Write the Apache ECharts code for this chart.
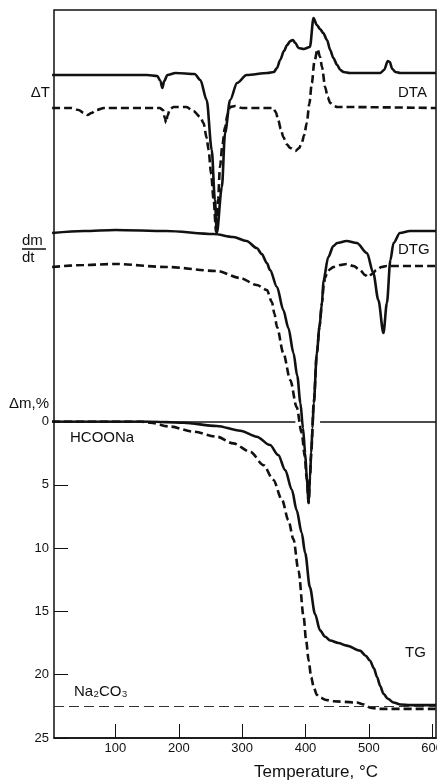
<!DOCTYPE html>
<html>
<head>
<meta charset="utf-8">
<script src="https://cdn.jsdelivr.net/npm/echarts@6/dist/echarts.min.js"></script>
<style>
  html, body { margin: 0; padding: 0; background: #fff; }
  #chart { width: 437px; height: 781px; }
</style>
</head>
<body>
<div id="chart"></div>
<script>
// temperature axis ticks, °C
const tempTicks = [100, 200, 300, 400, 500, 600]

// DTA, arbitrary ΔT units (solid and dashed run)
const dtaSolid = [[0, -0.1], [150, -0.1], [166, -0.2], [171, -0.7], [174, -1.4], [177, -0.7], [182, -0.1],
  [195, 0.1], [225, 0], [234, -0.6], [244, -2.6], [252, -7.6], [257, -12.6], [260, -15.9], [268, -11.3],
  [273, -5.9], [281, -2.6], [292, -0.9], [307, -0.1], [340, 0.1], [350, 0.2], [355, 0.6], [360, 1.4],
  [366, 2.3], [371, 2.9], [376, 3.3], [380, 3.4], [384, 3.1], [389, 2.6], [397, 2.5], [407, 2.7],
  [412.6, 5.6], [418, 4.9], [423, 4.5], [428, 4.1], [434, 3.4], [439, 2.4], [444, 1.6], [450, 0.9],
  [455, 0.4], [460, 0.2], [470, 0.1], [518, 0.1], [524, 0.4], [530, 1.3], [533, 1.2], [537, 0.5],
  [542, 0.2], [550, 0.1], [606, 0.1]]
const dtaDashed = [[0, -3.4], [30, -3.4], [42, -3.6], [50, -3.9], [56, -4.1], [62, -3.9], [70, -3.6],
  [82, -3.4], [170, -3.4], [175, -3.6], [178, -4.4], [180, -4.9], [182, -4.2], [186, -3.5], [192, -3.3],
  [212, -3.3], [223, -3.7], [234, -4.3], [239, -4.9], [244, -6.4], [247, -7.6], [251, -10], [255, -12.6],
  [259, -15.9], [262, -12.5], [265, -9.3], [269, -7], [273, -5.3], [277, -4], [281, -3.3], [289, -3.2],
  [300, -3.4], [349, -3.4], [353, -3.8], [357, -4.6], [361, -5.5], [365, -6.3], [370, -7], [376, -7.4],
  [384, -7.7], [390, -7.4], [394, -6.9], [398, -6.1], [402, -4.9], [406, -3.0], [410, -0.9], [414, 1.2],
  [419, 2.5], [423, 1.7], [426, 0.7], [431, -1.3], [435, -2.3], [439, -2.9], [445, -3.2], [450, -3.3],
  [606, -3.4]]

// DTG, arbitrary dm/dt units
const dtgSolid = [[0, -0.1], [50, 0.1], [100, 0.2], [180, 0.1], [255, -0.2], [286, -0.5], [307, -0.9],
  [323, -1.6], [331, -2.2], [339, -3.1], [344, -3.8], [355, -5.5], [365, -7.8], [373, -9.6], [381, -12.1],
  [387, -14.4], [392, -17.1], [396, -19.6], [399.5, -22.1], [402, -24.5], [405, -27.1], [407, -24.6],
  [409, -22.1], [411, -19.6], [413, -17.1], [418, -12.1], [422, -9.5], [426, -7.1], [428.4, -4.8],
  [436, -2.5], [444, -1.4], [450, -1.1], [465, -0.9], [481, -1.1], [497, -2.1], [507, -4.1], [515, -6.8],
  [523, -10.1], [528.5, -7.1], [534, -2.8], [539, -1.1], [549, -0.1], [565, 0.1], [606, 0.1]]
const dtgDashed = [[0, -3.5], [50, -3.3], [100, -3.2], [180, -3.5], [260, -3.9], [297, -4.6], [323, -5.3],
  [339, -5.8], [347, -7], [351, -8.2], [355, -9.5], [365, -12.1], [376, -14.8], [386, -17.5], [394, -20.1],
  [399, -22.5], [402, -24.8], [405, -27.1], [407, -24.6], [409, -22.1], [413, -17.1], [418, -12.1],
  [422, -9.5], [426, -7.1], [429, -5.2], [431, -4.6], [434, -4.1], [439, -3.7], [444, -3.5], [455, -3.3],
  [465, -3.2], [476, -3.4], [486, -3.8], [494, -4.3], [499, -4.5], [505, -4.2], [512, -3.8], [520, -3.5],
  [528, -3.4], [606, -3.4]]

// TG, mass loss Δm in %
const tgSolid = [[0, 0], [150, 0], [181, 0.05], [207, 0.1], [260, 0.35], [297, 0.73], [323, 1.2],
  [344, 1.86], [357, 2.65], [368, 3.84], [378.5, 5.4], [386, 7.0], [394, 8.8], [399.5, 10.4], [407, 13.1],
  [415, 15.2], [423, 16.5], [431, 17.0], [439, 17.3], [452, 17.5], [465, 17.7], [486, 18.1], [495, 18.5],
  [502, 18.9], [508, 19.5], [513, 20.2], [518, 20.9], [523, 21.5], [530, 21.9], [539, 22.2], [550, 22.35],
  [565, 22.4], [606, 22.4]]
const tgDashed = [[0, 0], [140, 0], [155, 0.1], [186, 0.4], [223, 0.8], [260, 1.2], [286, 1.73],
  [313, 2.4], [334, 3.45], [349, 4.6], [363, 6.2], [373, 7.8], [381, 9.3], [389, 11.8], [397, 15.4],
  [401, 17.3], [405, 18.9], [409, 20.2], [413, 21.0], [418, 21.6], [423, 21.8], [433, 22.0], [444, 22.1],
  [481, 22.2], [492, 22.35], [502, 22.6], [515, 22.7], [528, 22.7], [606, 22.7]]

// theoretical Na2CO3 residue level, %
const na2co3Level = 22.5
// the zero line is broken where the DTG spike passes
const zeroLineSpans = [[3, 384], [423, 606]]

const ink = '#111'
const font = 'Liberation Sans'

function curve(data, dashed, xi, yi, extra) {
  return Object.assign({
    type: 'line',
    data: data,
    xAxisIndex: xi,
    yAxisIndex: yi,
    symbol: 'none',
    smooth: 0.3,
    smoothMonotone: 'x',
    silent: true,
    lineStyle: {color: ink, width: 2.6, type: dashed ? [8, 4] : 'solid'}
  }, extra || {})
}

function label(text, x, y, size, align) {
  return {
    type: 'text', x: x, y: y, silent: true,
    style: {text: text, fill: ink, font: size + 'px "' + font + '"', align: align || 'left', verticalAlign: 'middle'}
  }
}

const chart = echarts.init(document.getElementById('chart'), null, {renderer: 'canvas'})

chart.setOption({
  animation: false,
  backgroundColor: '#fff',
  grid: [
    {left: 54, right: 1, top: 10, bottom: 43, outerBoundsMode: 'none', containLabel: false,
      show: true, borderColor: ink, borderWidth: 1.5, backgroundColor: 'transparent'},
    {left: 54, right: 1, top: 421.5, bottom: 43, outerBoundsMode: 'none', containLabel: false}
  ],
  xAxis: [
    {
      gridIndex: 0, type: 'value', min: 3, max: 606,
      axisLine: {show: true, onZero: false, lineStyle: {color: ink, width: 1.5}},
      axisTick: {show: true, inside: true, length: 14, customValues: tempTicks, lineStyle: {color: ink, width: 1}},
      axisLabel: {customValues: tempTicks, margin: 4, fontSize: 13, color: ink, fontFamily: font},
      splitLine: {show: false}
    },
    {gridIndex: 1, type: 'value', min: 3, max: 606, show: false}
  ],
  yAxis: [
    {gridIndex: 0, type: 'value', min: -66.4, max: 6.4, show: false},
    {gridIndex: 0, type: 'value', min: -50.6, max: 22.2, show: false},
    {
      gridIndex: 1, type: 'value', inverse: true, min: 0, max: 25, interval: 5,
      axisLine: {show: false, onZero: false},
      axisTick: {show: true, inside: true, length: 14, lineStyle: {color: ink, width: 1}},
      axisLabel: {margin: 5, fontSize: 13, color: ink, fontFamily: font},
      splitLine: {show: false}
    }
  ],
  series: [
    curve(dtaSolid, false, 0, 0),
    curve(dtaDashed, true, 0, 0),
    curve(dtgSolid, false, 0, 1),
    curve(dtgDashed, true, 0, 1),
    curve(tgSolid, false, 1, 2, {
      markLine: {
        symbol: 'none', silent: true, label: {show: false},
        lineStyle: {color: ink, width: 1.5, type: 'solid'},
        data: zeroLineSpans.map(s => [{coord: [s[0], 0]}, {coord: [s[1], 0]}])
      }
    }),
    curve(tgDashed, true, 1, 2, {
      markLine: {
        symbol: 'none', silent: true, label: {show: false},
        lineStyle: {color: '#333', width: 1, type: [10, 5]},
        data: [{yAxis: na2co3Level}]
      }
    })
  ],
  graphic: [
    label('ΔT', 50, 93, 15, 'right'),
    label('dm', 22, 241, 15),
    {type: 'line', silent: true, shape: {x1: 22, y1: 249, x2: 46, y2: 249}, style: {stroke: ink, lineWidth: 1.5}},
    label('dt', 22, 258, 15),
    label('Δm,%', 49, 404, 15, 'right'),
    label('DTA', 398, 93, 15),
    label('DTG', 398, 250, 15),
    label('TG', 405, 653, 15),
    label('HCOONa', 70, 438, 15),
    label('Na₂CO₃', 74, 692, 15),
    label('Temperature, °C', 316, 772, 17, 'center')
  ]
})
</script>
</body>
</html>
